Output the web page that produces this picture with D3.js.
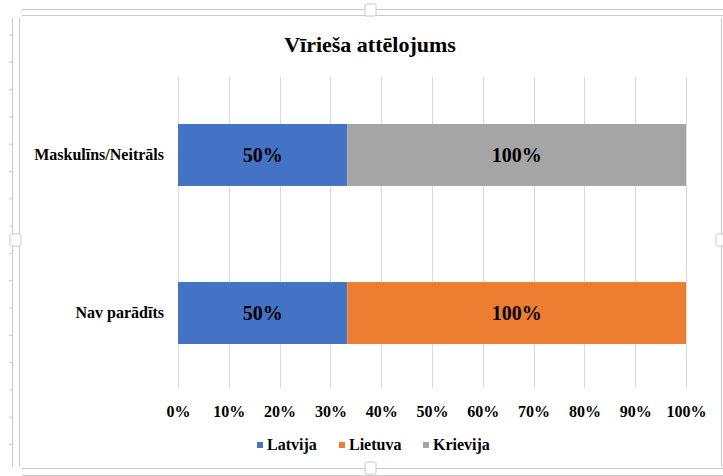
<!DOCTYPE html>
<html lang="lv">
<head>
<meta charset="UTF-8">
<title>Vīrieša attēlojums</title>
<script src="https://cdn.jsdelivr.net/npm/d3@7"></script>
<style>
  body { margin: 0; background: #fff; }
  text { font-family: "Liberation Serif", "Times New Roman", serif; font-weight: bold; fill: #000; }
</style>
</head>
<body>
<script>
  // data
  var categories = ["Maskulīns/Neitrāls", "Nav parādīts"];
  var seriesNames = ["Latvija", "Lietuva", "Krievija"];
  var latvija = [0.5, 0.5];
  var lietuva = [0, 1];
  var krievija = [1, 0];
  var tickValues = [0, 0.1, 0.2, 0.3, 0.4, 0.5, 0.6, 0.7, 0.8, 0.9, 1];
  var colors = ["#4472C4", "#ED7D31", "#A5A5A5"];

  var w = 723, h = 476;
  var svg = d3.select("body").append("svg")
    .attr("width", w)
    .attr("height", h);

  // frame of the embedded chart object
  var frame = svg.append("g").attr("stroke", "#c9c9c9").attr("fill", "none");
  frame.append("line").attr("x1", 22).attr("x2", w).attr("y1", 9.5).attr("y2", 9.5);
  frame.append("line").attr("x1", 22).attr("x2", w).attr("y1", 15.5).attr("y2", 15.5);
  frame.append("line").attr("x1", 12.5).attr("x2", 12.5).attr("y1", 18).attr("y2", 467);
  frame.append("line").attr("x1", 19.5).attr("x2", 19.5).attr("y1", 18).attr("y2", 467);
  frame.append("line").attr("x1", 22).attr("x2", w).attr("y1", 468.5).attr("y2", 468.5);
  frame.append("line").attr("x1", 22).attr("x2", w).attr("y1", 475.5).attr("y2", 475.5);
  frame.append("line").attr("x1", 721.5).attr("x2", 721.5).attr("y1", 18).attr("y2", 467);
  frame.selectAll("line.tick")
    .data(d3.range(35, 465, 27.3))
    .enter().append("line")
    .attr("class", "tick")
    .attr("x1", 9).attr("x2", 12)
    .attr("y1", function(d) { return d; })
    .attr("y2", function(d) { return d; });
  var handles = [[365, 4], [365, 462], [10, 234], [716, 234]];
  svg.selectAll("rect.handle")
    .data(handles)
    .enter().append("rect")
    .attr("class", "handle")
    .attr("x", function(d) { return d[0]; })
    .attr("y", function(d) { return d[1]; })
    .attr("width", 11).attr("height", 12).attr("rx", 1.5)
    .attr("fill", "#fff").attr("stroke", "#c9c9c9");

  // title
  svg.append("text")
    .attr("x", 370).attr("y", 52)
    .attr("text-anchor", "middle")
    .style("font-size", "22px")
    .text("Vīrieša attēlojums");

  var x = d3.scaleLinear().domain([0, 1]).range([178, 686]);
  var y = d3.scaleBand().domain(categories).range([78.5, 389.5])
    .paddingInner(0.608).paddingOuter(0.288);

  // gridlines
  svg.append("g")
    .selectAll("line")
    .data(tickValues)
    .enter().append("line")
    .attr("x1", function(d) { return Math.round(x(d)) + 0.5; })
    .attr("x2", function(d) { return Math.round(x(d)) + 0.5; })
    .attr("y1", 77).attr("y2", 388)
    .attr("stroke", "#d9d9d9");

  var table = categories.map(function(c, i) {
    return { cat: c, Latvija: latvija[i], Lietuva: lietuva[i], Krievija: krievija[i] };
  });
  var stacked = d3.stack().keys(seriesNames).offset(d3.stackOffsetExpand)(table);

  var groups = svg.selectAll("g.series")
    .data(stacked)
    .enter().append("g")
    .attr("class", "series")
    .attr("fill", function(d, i) { return colors[i]; });

  groups.selectAll("rect")
    .data(function(d) { return d.filter(function(p) { return p[1] > p[0]; }); })
    .enter().append("rect")
    .attr("x", function(d) { return x(d[0]); })
    .attr("width", function(d) { return x(d[1]) - x(d[0]); })
    .attr("y", function(d) { return y(d.data.cat); })
    .attr("height", y.bandwidth());

  // data labels (raw values)
  stacked.forEach(function(s) {
    svg.append("g").selectAll("text")
      .data(s.filter(function(p) { return p[1] > p[0]; }))
      .enter().append("text")
      .attr("x", function(d) { return (x(d[0]) + x(d[1])) / 2; })
      .attr("y", function(d) { return y(d.data.cat) + y.bandwidth() / 2 + 7; })
      .attr("text-anchor", "middle")
      .style("font-size", "20px")
      .text(function(d) { return d3.format(".0%")(d.data[s.key]); });
  });

  // category labels
  svg.append("g").selectAll("text")
    .data(categories)
    .enter().append("text")
    .attr("x", 164)
    .attr("y", function(d) { return y(d) + y.bandwidth() / 2 + 5; })
    .attr("text-anchor", "end")
    .style("font-size", "16px")
    .text(function(d) { return d; });

  // x axis
  var xAxis = svg.append("g")
    .attr("transform", "translate(0,388)")
    .call(d3.axisBottom(x).tickValues(tickValues).tickFormat(d3.format(".0%")).tickSize(0).tickPadding(0));
  xAxis.select(".domain").remove();
  xAxis.selectAll("text")
    .attr("y", 29).attr("dy", null)
    .style("font-size", "16px")
    .style("font-family", "'Liberation Serif', 'Times New Roman', serif");

  // legend
  var legendX = [257, 339, 423];
  var legend = svg.append("g").selectAll("g")
    .data(seriesNames)
    .enter().append("g")
    .attr("transform", function(d, i) { return "translate(" + legendX[i] + ",442)"; });
  legend.append("rect")
    .attr("width", 6).attr("height", 6)
    .attr("fill", function(d, i) { return colors[i]; });
  legend.append("text")
    .attr("x", 10).attr("y", 8)
    .style("font-size", "16px")
    .text(function(d) { return d; });
</script>
</body>
</html>
